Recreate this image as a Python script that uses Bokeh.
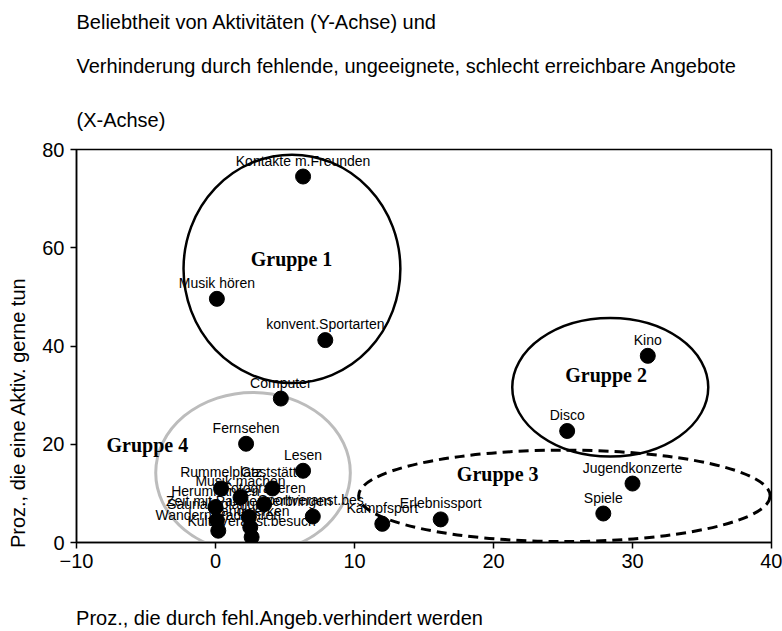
from bokeh.plotting import figure
from bokeh.models import Range1d, FixedTicker, Title, ColumnDataSource
from bokeh.core.properties import value
from bokeh.embed import file_html
from bokeh.resources import INLINE

# ---- data ----
activities = [
    "Kontakte m.Freunden", "Musik hören", "konvent.Sportarten", "Computer",
    "Fernsehen", "Lesen", "Kampfsport", "Erlebnissport", "Spiele",
    "Jugendkonzerte", "Disco", "Kino",
    "Rummelplatz", "Gaststätte", "Musik machen", "Herumhängen", "Fotografieren",
    "Zeit mit Partner verbringen", "Sportveranst.bes.", "Sauna/Solarium",
    "Handwerken", "Wandern/Radfahren", "Kult. Veranst.besuch",
]
prevented = [  # x: Proz., die durch fehl.Angeb.verhindert werden
    6.3, 0.1, 7.9, 4.7,
    2.2, 6.3, 12.0, 16.2, 27.9,
    30.0, 25.3, 31.1,
    0.4, 4.1, 1.8, 0.0, 3.5,
    2.4, 7.0, 0.1,
    2.5, 0.2, 2.6,
]
popularity = [  # y: Proz., die eine Aktiv. gerne tun
    74.5, 49.6, 41.2, 29.3,
    20.1, 14.6, 3.8, 4.7, 5.9,
    12.0, 22.7, 38.0,
    11.0, 11.0, 9.2, 7.2, 7.8,
    5.2, 5.3, 4.5,
    3.1, 2.4, 1.1,
]

group_names = ["Gruppe 1", "Gruppe 2", "Gruppe 3", "Gruppe 4"]
group_cx = [5.5, 28.4, 25.1, 2.7]
group_cy = [55.7, 31.6, 9.5, 14.2]
group_w = [15.6, 14.1, 29.6, 14.0]
group_h = [46.5, 28.2, 18.6, 32.7]
group_label_x = [5.47, 28.1, 20.3, -4.9]
group_label_y = [57.8, 34.1, 13.9, 19.8]

x_ticks = [-10, 0, 10, 20, 30, 40]
y_ticks = [0, 20, 40, 60, 80]

title_lines = [
    "Beliebtheit von Aktivitäten (Y-Achse) und",
    "Verhinderung durch fehlende, ungeeignete, schlecht erreichbare Angebote",
    "(X-Achse)",
]
x_title = "Proz., die durch fehl.Angeb.verhindert werden"
y_title = "Proz., die eine Aktiv. gerne tun"

FONT = "Liberation Sans"
NBSP = "\u00a0"

p = figure(width=782, height=631, output_backend="svg", toolbar_location=None,
           x_range=Range1d(-10, 40), y_range=Range1d(0, 80),
           min_border_left=76, min_border_right=11, min_border_top=0,
           min_border_bottom=89)
p.background_fill_color = "white"
p.border_fill_color = "white"
p.outline_line_color = "black"
p.outline_line_width = 1.5
p.grid.visible = False

for ax in (p.xaxis[0], p.yaxis[0]):
    ax.axis_line_color = "black"
    ax.axis_line_width = 1.5
    ax.major_tick_line_color = "black"
    ax.major_tick_line_width = 1.5
    ax.major_tick_in = 0
    ax.major_tick_out = 6
    ax.minor_tick_line_color = None
    ax.major_label_text_font = FONT
    ax.major_label_text_font_size = "20px"
    ax.major_label_text_color = "black"
    ax.axis_label_text_font = FONT
    ax.axis_label_text_font_size = "20px"
    ax.axis_label_text_font_style = "normal"
    ax.axis_label_text_color = "black"
p.xaxis[0].ticker = FixedTicker(ticks=x_ticks)
p.yaxis[0].ticker = FixedTicker(ticks=y_ticks)
p.xaxis[0].major_label_standoff = 5
p.yaxis[0].major_label_standoff = 6

# axis titles: centred labels, padded with non-breaking spaces so that the
# visible text starts near the lower-left corner like the original
p.xaxis[0].axis_label = x_title + NBSP * 52
p.xaxis[0].axis_label_standoff = 36
p.yaxis[0].axis_label = y_title + NBSP * 24
p.yaxis[0].axis_label_standoff = 10

# title lines: first added sits nearest the frame
title_standoffs = [17, 23, 37]
for t, s in reversed(list(zip(title_lines, title_standoffs))):
    p.add_layout(Title(text=t, align="left", text_font=FONT, text_font_size="20px",
                       text_font_style="normal", text_color="black", standoff=s), "above")

# group ellipses
styles = [
    dict(line_color="black", line_width=2.5, line_dash="solid"),
    dict(line_color="black", line_width=2.5, line_dash="solid"),
    dict(line_color="black", line_width=3, line_dash="10 6"),
    dict(line_color="#bcbcbc", line_width=3, line_dash="solid"),
]
for i in range(len(group_names)):
    p.ellipse(x=[group_cx[i]], y=[group_cy[i]], width=[group_w[i]], height=[group_h[i]],
              fill_color=None, **styles[i])

src = ColumnDataSource(dict(x=prevented, y=popularity, name=activities))
p.scatter("x", "y", source=src, size=15, fill_color="black", line_color="black")
p.text("x", "y", text="name", source=src, text_font=value(FONT),
       text_font_size="14px", text_color="black", text_align="center",
       text_baseline="middle", y_offset=-16)

gsrc = ColumnDataSource(dict(x=group_label_x, y=group_label_y, name=group_names))
p.text("x", "y", text="name", source=gsrc, text_font=value("Liberation Serif"),
       text_font_size="20px", text_font_style="bold", text_color="black",
       text_align="center", text_baseline="middle")

open("out.html", "w").write(file_html(p, INLINE))
